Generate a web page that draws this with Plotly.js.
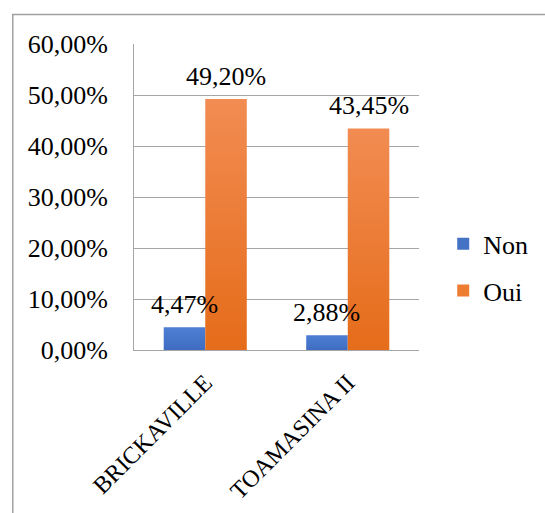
<!DOCTYPE html>
<html>
<head>
<meta charset="utf-8">
<script src="https://cdn.plot.ly/plotly-3.0.1.min.js"></script>
<style>
  html, body { margin: 0; padding: 0; background: #ffffff; }
  #chart { width: 545px; height: 513px; }
  #chart text { font-family: 'Liberation Serif', 'Times New Roman', serif !important; }
</style>
</head>
<body>
<div id="chart"></div>
<script>
// Districts and answer shares (fractions of respondents)
const districts = ["BRICKAVILLE", "TOAMASINA II"];
const seriesNames = ["Non", "Oui"];
const nonValues = [0.0447, 0.0288];
const ouiValues = [0.4920, 0.4345];
const yTicks = [0, 0.1, 0.2, 0.3, 0.4, 0.5, 0.6];

const FONT = "Liberation Serif";
const colNon = "#4472C4";
const colOui = "#ED7D31";

const traces = [
  { type: "bar", name: seriesNames[0], x: districts, y: nonValues, legendgroup: "a",
    marker: { color: colNon, line: { width: 0 } }, hoverinfo: "skip" },
  { type: "bar", name: seriesNames[1], x: districts, y: ouiValues, legendgroup: "b",
    marker: { color: colOui, line: { width: 0 } }, hoverinfo: "skip" }
];

// Value labels centred above each bar, drawn on top of every bar
const fmt = v => (v * 100).toFixed(2).replace(".", ",") + "%";
const annotations = [];
[nonValues, ouiValues].forEach((vals, s) => {
  vals.forEach((v, i) => {
    annotations.push({
      xref: "x", yref: "y", x: districts[i], y: v,
      xshift: s === 0 ? -21 : 21, yshift: 6,
      yanchor: "bottom", xanchor: "center",
      text: fmt(v), showarrow: false,
      font: { family: FONT, size: 26, color: "#000000" }
    });
  });
});

const layout = {
  width: 545, height: 513,
  margin: { l: 134, r: 123, t: 44, b: 163 },
  paper_bgcolor: "#ffffff", plot_bgcolor: "#ffffff",
  separators: ", ",
  barmode: "group", bargap: 0.417, bargroupgap: 0,
  font: { family: FONT, size: 26, color: "#000000" },
  xaxis: {
    type: "category", tickangle: -45, showgrid: false,
    showline: true, linecolor: "#a6a6a6", linewidth: 1,
    ticks: "", tickfont: { family: FONT, size: 24, color: "#000000" },
    ticklabelstandoff: 8, fixedrange: true
  },
  yaxis: {
    range: [0, 0.6], tickvals: yTicks, tickformat: ".2%",
    showgrid: true, gridcolor: "#a6a6a6", gridwidth: 1,
    showline: true, linecolor: "#a6a6a6", linewidth: 1,
    zeroline: false, ticks: "", ticklabelstandoff: 20,
    tickfont: { family: FONT, size: 26, color: "#000000" }, fixedrange: true
  },
  legend: {
    x: 1.085, xanchor: "left", y: 0.27, yanchor: "middle",
    traceorder: "grouped", tracegroupgap: 10,
    font: { family: FONT, size: 26, color: "#000000" },
    bgcolor: "rgba(0,0,0,0)", borderwidth: 0
  },
  shapes: [{
    type: "rect", xref: "paper", yref: "paper", layer: "below",
    x0: (11.5 - 134) / 288, x1: (560 - 134) / 288,
    y0: (350 - 540) / 306, y1: (350 - 14.5) / 306,
    line: { color: "#a0a0a0", width: 1.5 }, fillcolor: "rgba(0,0,0,0)"
  }],
  annotations: annotations,
  showlegend: true
};

Plotly.newPlot("chart", traces, layout, { displayModeBar: false })
  .then(gd => {
    // Soft vertical shading on the bars, lighter at the top
    const svg = gd.querySelector(".main-svg");
    const ns = "http://www.w3.org/2000/svg";
    const defs = document.createElementNS(ns, "defs");
    const grads = { gNon: ["#4d7fd4", "#3f6cc0"], gOui: ["#f28c52", "#e56c1a"] };
    Object.entries(grads).forEach(([id, [top, bottom]]) => {
      const g = document.createElementNS(ns, "linearGradient");
      g.setAttribute("id", id);
      g.setAttribute("x1", "0"); g.setAttribute("y1", "0");
      g.setAttribute("x2", "0"); g.setAttribute("y2", "1");
      [[0, top], [1, bottom]].forEach(([o, c]) => {
        const st = document.createElementNS(ns, "stop");
        st.setAttribute("offset", o);
        st.setAttribute("stop-color", c);
        g.appendChild(st);
      });
      defs.appendChild(g);
    });
    svg.insertBefore(defs, svg.firstChild);
    const traceGroups = gd.querySelectorAll(".barlayer .trace.bars");
    traceGroups.forEach((tg, i) => {
      tg.querySelectorAll("path").forEach(p => {
        p.style.fill = i === 0 ? "url(#gNon)" : "url(#gOui)";
      });
    });
  });
</script>
</body>
</html>
